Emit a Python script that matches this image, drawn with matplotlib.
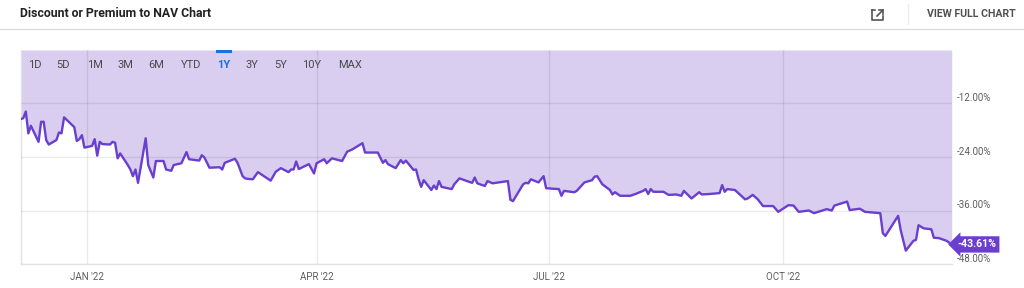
import matplotlib
matplotlib.use('Agg')
import matplotlib.pyplot as plt
import matplotlib.dates as mdates
from matplotlib.lines import Line2D
import pandas as pd

# discount / premium to NAV (percent)
dates = ['2021-12-06', '2021-12-07', '2021-12-08', '2021-12-09', '2021-12-10', '2021-12-13', '2021-12-14',
         '2021-12-15', '2021-12-16', '2021-12-17', '2021-12-20', '2021-12-21', '2021-12-22', '2021-12-23',
         '2021-12-27', '2021-12-28', '2021-12-29', '2021-12-30', '2021-12-31', '2022-01-03', '2022-01-04',
         '2022-01-05', '2022-01-06', '2022-01-07', '2022-01-10', '2022-01-11', '2022-01-12', '2022-01-13',
         '2022-01-14', '2022-01-17', '2022-01-18', '2022-01-19', '2022-01-20', '2022-01-21', '2022-01-24',
         '2022-01-25', '2022-01-27', '2022-01-28', '2022-01-31', '2022-02-01', '2022-02-03', '2022-02-04',
         '2022-02-07', '2022-02-09', '2022-02-10', '2022-02-14', '2022-02-15', '2022-02-16', '2022-02-18',
         '2022-02-22', '2022-02-23', '2022-02-24', '2022-02-28', '2022-03-01', '2022-03-03', '2022-03-04',
         '2022-03-05', '2022-03-07', '2022-03-09', '2022-03-14', '2022-03-16', '2022-03-18', '2022-03-21',
         '2022-03-22', '2022-03-23', '2022-03-24', '2022-03-25', '2022-03-29', '2022-03-31', '2022-04-01',
         '2022-04-04', '2022-04-05', '2022-04-07', '2022-04-11', '2022-04-13', '2022-04-15', '2022-04-19',
         '2022-04-20', '2022-04-25', '2022-04-27', '2022-04-28', '2022-04-29', '2022-05-02', '2022-05-04',
         '2022-05-05', '2022-05-06', '2022-05-09', '2022-05-10', '2022-05-11', '2022-05-12', '2022-05-13',
         '2022-05-16', '2022-05-17', '2022-05-18', '2022-05-19', '2022-05-20', '2022-05-24', '2022-05-25',
         '2022-05-27', '2022-06-01', '2022-06-02', '2022-06-03', '2022-06-06', '2022-06-07', '2022-06-09',
         '2022-06-15', '2022-06-16', '2022-06-17', '2022-06-21', '2022-06-22', '2022-06-23', '2022-06-24',
         '2022-06-27', '2022-06-29', '2022-06-30', '2022-07-05', '2022-07-06', '2022-07-07', '2022-07-11',
         '2022-07-12', '2022-07-15', '2022-07-18', '2022-07-19', '2022-07-20', '2022-07-22', '2022-07-25',
         '2022-07-26', '2022-07-27', '2022-07-29', '2022-08-02', '2022-08-04', '2022-08-07', '2022-08-08',
         '2022-08-09', '2022-08-10', '2022-08-11', '2022-08-15', '2022-08-17', '2022-08-20', '2022-08-22',
         '2022-08-23', '2022-08-26', '2022-08-29', '2022-08-30', '2022-09-02', '2022-09-06', '2022-09-07',
         '2022-09-08', '2022-09-09', '2022-09-12', '2022-09-16', '2022-09-17', '2022-09-19', '2022-09-21',
         '2022-09-23', '2022-09-27', '2022-09-29', '2022-10-03', '2022-10-05', '2022-10-07', '2022-10-11',
         '2022-10-13', '2022-10-18', '2022-10-20', '2022-10-21', '2022-10-25', '2022-10-26', '2022-10-27',
         '2022-10-31', '2022-11-02', '2022-11-08', '2022-11-09', '2022-11-10', '2022-11-15', '2022-11-16',
         '2022-11-18', '2022-11-21', '2022-11-22', '2022-11-23', '2022-11-25', '2022-11-28', '2022-11-29',
         '2022-12-01', '2022-12-04', '2022-12-06']
values = [-15.5, -15.3, -13.8, -18.7, -17.0, -20.6, -16.1,
          -16.1, -20.2, -21.2, -20.2, -18.5, -18.7, -15.1,
          -17.3, -20.4, -20.0, -19.1, -21.9, -21.5, -20.0,
          -23.7, -20.6, -21.1, -21.2, -20.6, -20.8, -24.3,
          -23.2, -25.8, -26.8, -28.3, -26.8, -29.8, -19.8,
          -25.8, -28.6, -24.9, -24.9, -26.8, -27.1, -25.8,
          -25.4, -22.9, -24.5, -24.8, -23.6, -24.1, -26.4,
          -26.3, -26.8, -25.3, -24.4, -25.3, -28.3, -28.8,
          -28.9, -29.0, -27.4, -29.3, -27.3, -26.5, -27.4,
          -26.8, -26.8, -25.0, -26.7, -25.6, -27.7, -25.4,
          -24.5, -25.4, -24.3, -24.9, -22.8, -22.3, -20.9,
          -23.0, -23.0, -25.3, -24.7, -25.6, -26.5, -24.7,
          -25.4, -24.8, -26.9, -26.8, -29.0, -30.7, -29.2,
          -31.4, -30.4, -31.2, -29.4, -30.7, -31.2, -30.1,
          -28.8, -29.8, -28.6, -29.9, -30.5, -29.4, -29.9,
          -29.4, -33.6, -33.9, -30.1, -29.8, -29.9, -29.0,
          -29.7, -28.3, -31.0, -31.2, -32.7, -31.6, -31.9,
          -31.6, -29.7, -29.2, -28.4, -28.3, -30.1, -31.4,
          -32.4, -31.9, -32.7, -32.7, -32.3, -31.6, -31.2,
          -32.3, -31.2, -31.8, -31.8, -32.5, -32.4, -32.7,
          -31.6, -33.3, -31.9, -32.4, -32.3, -32.1, -30.3,
          -31.8, -31.2, -31.4, -33.5, -33.3, -32.5, -33.5,
          -35.0, -35.0, -36.3, -34.8, -34.9, -36.3, -36.0,
          -36.6, -35.7, -36.0, -34.9, -34.2, -34.0, -35.9,
          -35.6, -36.3, -36.6, -41.1, -41.7, -37.2, -40.4,
          -45.0, -42.8, -42.6, -39.3, -40.0, -40.2, -42.1,
          -42.2, -42.8, -43.61]

y_ticks = [-12, -24, -36, -48]
x_ticks = ['2022-01-01', '2022-04-01', '2022-07-01', '2022-10-01']
ranges = ['1D', '5D', '1M', '3M', '6M', 'YTD', '1Y', '3Y', '5Y', '10Y', 'MAX']
active_range = '1Y'

purple = '#6a3fcf'
lavender = '#d9cdf0'
grey_txt = '#5e5e5e'

plt.rcParams['font.family'] = ['Roboto', 'DejaVu Sans']

d = pd.to_datetime(dates)
W, H = 1024, 288
fig = plt.figure(figsize=(W / 100, H / 100), dpi=100)

# plot box in pixels
left, right, top, bottom = 20.7, 951.7, 50, 264
ax = fig.add_axes([left / W, 1 - bottom / H, (right - left) / W, (bottom - top) / H])

ax.fill_between(d, values, 0, color=lavender, lw=0, zorder=1)
ax.plot(d, values, color=purple, lw=1.7, zorder=3, solid_joinstyle='round')

ax.set_xlim(pd.Timestamp('2021-12-06'), pd.Timestamp('2022-12-06'))
ax.set_ylim(-48, 0)

ax.set_yticks(y_ticks)
ax.set_yticklabels(['%.2f%%' % v for v in y_ticks])
ax.yaxis.tick_right()
ax.set_xticks(pd.to_datetime(x_ticks))
ax.xaxis.set_major_formatter(mdates.DateFormatter("%b '%y"))
fig.canvas.draw()
ax.set_xticklabels([lbl.get_text().upper() for lbl in ax.get_xticklabels()])
ax.tick_params(axis='both', length=0, labelsize=7, colors=grey_txt)
ax.tick_params(axis='y', pad=3.5)
ax.tick_params(axis='x', pad=5.5)
for lbl in ax.get_yticklabels():
    lbl.set_va('bottom')

ax.grid(True, color='black', alpha=0.08, lw=1, zorder=2)
ax.set_axisbelow(False)
for s in ['top', 'right']:
    ax.spines[s].set_visible(False)
for s in ['left', 'bottom']:
    ax.spines[s].set_color('#e2e2e2')
    ax.spines[s].set_linewidth(1)

# last value tag
ax.annotate('%.2f%%' % values[-1], xy=(d[-1], values[-1]), xytext=(4, 0),
            textcoords='offset points', ha='left', va='center', color='white',
            fontsize=7.6, fontweight='bold', annotation_clip=False, zorder=5,
            bbox=dict(boxstyle='larrow,pad=0.3', fc=purple, ec='none'))

# header
fig.text(20 / W, 1 - 13.5 / H, 'Discount or Premium to NAV Chart', fontsize=8.8,
         fontweight='bold', color='#222222', va='center', ha='left')
fig.text(1016 / W, 1 - 14 / H, 'VIEW FULL CHART', fontsize=7.6, fontweight='bold',
         color='#505050', va='center', ha='right')
fig.add_artist(Line2D([0, 1], [1 - 29.3 / H] * 2, color='#dddddd', lw=1))
fig.add_artist(Line2D([907.7 / W] * 2, [1 - 4 / H, 1 - 24 / H], color='#eeeeee', lw=1))

# external link icon
icon = [([872, 872, 883, 883], [10, 20, 20, 16]), ([872, 875], [10, 10]),
        ([877, 883], [16, 10]), ([879, 883, 883], [10, 10, 14])]
for xs, ys in icon:
    fig.add_artist(Line2D([x / W for x in xs], [1 - y / H for y in ys],
                          color='#555555', lw=1.2))

# range selector
range_x = [35, 62.5, 94.5, 125, 156.5, 191, 223.5, 252, 281, 312, 350.5]
for name, x in zip(ranges, range_x):
    if name == active_range:
        fig.text(x / W, 1 - 65.5 / H, name, fontsize=8, color='#1a73d8',
                 fontweight='bold', ha='center', va='center')
        fig.add_artist(Line2D([(x - 6.5) / W, (x + 6.5) / W], [1 - 51 / H] * 2,
                              color='#1a73d8', lw=2.2))
    else:
        fig.text(x / W, 1 - 65.5 / H, name, fontsize=8, color='#4a4a4a',
                 ha='center', va='center')

fig.savefig('out.png', dpi=100)
